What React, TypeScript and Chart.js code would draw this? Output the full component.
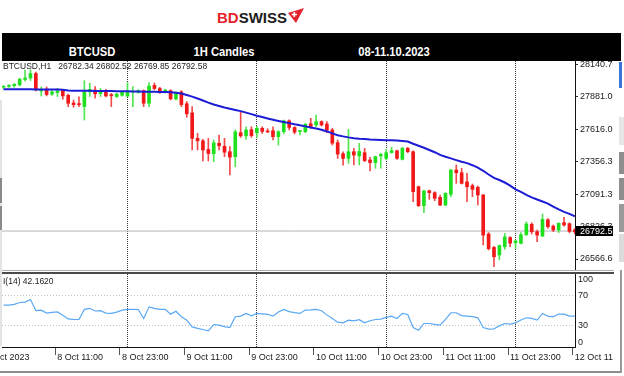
import React, { useEffect, useRef } from "react";
import { Chart, registerables } from "chart.js";

Chart.register(...registerables);

const FONT = "'Liberation Sans', Arial, Helvetica, sans-serif";
Chart.defaults.font.family = FONT;

// ---------- data (hourly candles, 8 Oct 00:00 -> 12 Oct 10:00) ----------
const opens = [
  27955, 27962, 27968, 27975, 28018, 28030, 28066, 27925, 27940, 27900,
  27912, 27928, 27890, 27828, 27822, 27800, 27918, 27933, 27903, 27918,
  27895, 27880, 27890, 27884, 27916, 27914, 27928, 27826, 27970, 27945,
  27918, 27928, 27860, 27918, 27822, 27748, 27542, 27522, 27452, 27418,
  27502, 27478, 27434, 27394, 27588, 27562, 27612, 27588, 27623, 27602,
  27604, 27555, 27596, 27684, 27630, 27598, 27596, 27660, 27650, 27677,
  27658, 27610, 27507, 27418, 27380, 27434, 27400, 27426, 27367, 27346,
  27400, 27380, 27428, 27442, 27372, 27461, 27434, 27151, 26998, 27119,
  27103, 27065, 27003, 27090, 27286, 27264, 27190, 27160, 27146, 27084,
  26769, 26660, 26599, 26666, 26740, 26698, 26693, 26762, 26847, 26787,
  26752, 26884, 26833, 26801, 26860, 26852, 26802,
];
const highs = [
  27968, 27976, 27985, 28028, 28095, 28095, 28078, 27958, 27958, 27928,
  27945, 27938, 27900, 27852, 27878, 28008, 27988, 27960, 27945, 27938,
  27906, 27906, 27925, 27992, 27960, 27936, 27933, 27992, 27990, 27955,
  27940, 27935, 27918, 27928, 27840, 27798, 27582, 27534, 27542, 27529,
  27569, 27542, 27475, 27610, 27758, 27636, 27636, 27640, 27636, 27620,
  27636, 27604, 27690, 27692, 27636, 27606, 27662, 27704, 27731, 27684,
  27677, 27623, 27529, 27434, 27615, 27461, 27502, 27461, 27388, 27399,
  27421, 27453, 27469, 27448, 27469, 27469, 27442, 27157, 27124, 27124,
  27111, 27084, 27103, 27292, 27327, 27300, 27259, 27173, 27157, 27089,
  26780, 26670, 26680, 26774, 26747, 26720, 26780, 26866, 26860, 26801,
  26930, 26893, 26842, 26860, 26904, 26860, 26812,
];
const lows = [
  27945, 27953, 27955, 27965, 28005, 28010, 27925, 27885, 27885, 27890,
  27880, 27858, 27798, 27793, 27798, 27690, 27880, 27866, 27880, 27878,
  27798, 27873, 27884, 27878, 27798, 27906, 27798, 27798, 27935, 27905,
  27910, 27852, 27852, 27798, 27712, 27448, 27448, 27360, 27360, 27353,
  27448, 27394, 27246, 27313, 27550, 27534, 27550, 27550, 27582, 27588,
  27529, 27488, 27578, 27610, 27578, 27569, 27588, 27623, 27636, 27642,
  27588, 27488, 27380, 27326, 27340, 27327, 27327, 27353, 27278, 27300,
  27300, 27367, 27421, 27372, 27367, 27426, 27030, 26990, 26941, 27049,
  27038, 26998, 26998, 27070, 27178, 27173, 27030, 27070, 27003, 26680,
  26639, 26505, 26560, 26645, 26666, 26653, 26688, 26758, 26769, 26706,
  26748, 26815, 26788, 26780, 26833, 26780, 26770,
];
const closes = [
  27962, 27970, 27979, 28020, 28030, 28066, 27935, 27938, 27897, 27918,
  27925, 27885, 27826, 27814, 27815, 27918, 27937, 27902, 27922, 27885,
  27886, 27900, 27916, 27926, 27924, 27928, 27826, 27965, 27945, 27925,
  27932, 27862, 27910, 27815, 27740, 27542, 27522, 27448, 27420, 27505,
  27482, 27430, 27390, 27594, 27562, 27610, 27564, 27623, 27598, 27594,
  27555, 27596, 27684, 27630, 27592, 27604, 27656, 27636, 27677, 27650,
  27608, 27503, 27415, 27380, 27434, 27407, 27436, 27362, 27346, 27394,
  27412, 27426, 27442, 27380, 27461, 27434, 27111, 26998, 27116, 27103,
  27057, 27003, 27097, 27286, 27264, 27178, 27151, 27130, 27084, 26760,
  26650, 26585, 26675, 26745, 26695, 26712, 26762, 26850, 26787, 26760,
  26887, 26828, 26801, 26855, 26841, 26790, 26785,
];
const maValues = [
  27938, 27938, 27938, 27938, 27938, 27938, 27937, 27937, 27937, 27936,
  27936, 27935, 27928, 27927, 27927, 27926, 27926, 27925, 27925, 27924,
  27924, 27923, 27923, 27922, 27921, 27920, 27919, 27919, 27918, 27917,
  27916, 27914, 27911, 27905, 27893, 27879, 27864, 27848, 27831, 27816,
  27803, 27791, 27781, 27771, 27762, 27750, 27738, 27725, 27714, 27703,
  27693, 27683, 27674, 27665, 27656, 27648, 27639, 27630, 27621, 27612,
  27598, 27582, 27567, 27558, 27550, 27543, 27539, 27536, 27533, 27531,
  27529, 27527, 27526, 27524, 27521, 27516, 27498, 27482, 27466, 27448,
  27430, 27408, 27393, 27380, 27366, 27353, 27342, 27325, 27305, 27280,
  27250, 27222, 27205, 27185, 27160, 27130, 27110, 27085, 27065, 27048,
  27032, 27015, 26990, 26968, 26948, 26932, 26912,
];
const rsiValues = [
  57.5, 57.5, 58.5, 61, 61.5, 65, 50, 50.5, 46.5, 47.5,
  48, 43.5, 38.5, 37.8, 37.7, 51.5, 53, 49.3, 49.7, 46.5,
  46, 47.8, 50.5, 51.5, 51.5, 51.3, 39.1, 55, 53, 51.5,
  51.5, 45, 49, 41.5, 36.8, 27.6, 25.5, 24, 22.2, 30.8,
  30, 28, 26.7, 41.4, 42.3, 46, 42.8, 46, 45.5, 44.8,
  42.3, 48, 51.5, 48.5, 47, 46, 50.6, 50.8, 51.5, 49.7,
  44, 39.1, 34, 33.1, 36.8, 35.9, 37.5, 33.1, 36, 37.7,
  38.2, 40.5, 42.3, 39.1, 46, 44.6, 26.7, 23, 32.2, 32.2,
  31, 29.9, 37.7, 46.9, 46.9, 43, 42.3, 41.5, 40, 26.7,
  24.5, 24.8, 29, 32.2, 31.3, 33.1, 37, 40, 39.1, 36.8,
  46, 42.3, 41.4, 45.1, 45.1, 42.3, 42.2,
];

const priceTicks = [26566.6, 26826.3, 27091.3, 27356.3, 27616.0, 27881.0, 28140.7];
const separatorBars = [23, 47, 71, 95];
const timeTickBars = [-3.7, 9.6, 21.6, 33.6, 45.6, 57.6, 69.6, 81.6, 93.6, 105.6];
const timeLabels = [
  "8 Oct 2023", "8 Oct 11:00", "8 Oct 23:00", "9 Oct 11:00", "9 Oct 23:00",
  "10 Oct 11:00", "10 Oct 23:00", "11 Oct 11:00", "11 Oct 23:00", "12 Oct 11:00",
];
const rsiTickValues = [6, 30, 70, 92];
const rsiTickLabels = ["0", "30", "70", "100"];
const lastPrice = 26792.58;
const ohlcText = "BTCUSD,H1   26782.34 26802.52 26769.85 26792.58";
const rsiText = "I(14) 42.1620";
const headerCells = ["BTCUSD", "1H Candles", "08-11.10.2023"];

// ---------- layout constants ----------
const X_MIN = -0.28;
const X_MAX = 106.03;
const Y_MIN = 26477.7;
const Y_MAX = 28167.4;
const GREEN = "#1fe01f";
const RED = "#f01818";
const GREEN_W = "#4fe64f";
const RED_W = "#f24a4a";

const priceBoxPlugin = {
  id: "priceBox",
  afterDraw(chart: any) {
    const y = chart.scales.y.getPixelForValue(lastPrice);
    const ctx = chart.ctx;
    const left = chart.chartArea.right + 1;
    ctx.save();
    ctx.fillStyle = "#000";
    ctx.fillRect(left, Math.round(y) - 5, 60, 10);
    ctx.fillStyle = "#fff";
    ctx.font = `9px ${FONT}`;
    ctx.textBaseline = "middle";
    ctx.fillText(lastPrice.toFixed(2), left + 4, Math.round(y) + 0.5);
    ctx.restore();
  },
};

export default function App() {
  const mainRef = useRef<HTMLCanvasElement>(null);
  const rsiRef = useRef<HTMLCanvasElement>(null);

  useEffect(() => {
    const idx = opens.map((_, i) => i);
    const up = idx.map((i) => closes[i] >= opens[i]);

    const main = new Chart(mainRef.current as HTMLCanvasElement, {
      type: "bar",
      data: {
        datasets: [
          {
            type: "line",
            label: "MA",
            data: maValues.map((v, i) => ({ x: i, y: v })),
            borderColor: "#1c1cd6",
            borderWidth: 2,
            pointRadius: 0,
            tension: 0,
            order: 0,
            clip: 0,
          } as any,
          {
            type: "bar",
            label: "Bodies",
            data: idx.map((i) => ({ x: i, y: [opens[i], closes[i]] })),
            backgroundColor: up.map((u) => (u ? GREEN : RED)),
            barThickness: 3,
            minBarLength: 1,
            grouped: false,
            order: 1,
            clip: 0,
          } as any,
          {
            type: "bar",
            label: "Wicks",
            data: idx.map((i) => ({ x: i, y: [lows[i], highs[i]] })),
            backgroundColor: up.map((u) => (u ? GREEN_W : RED_W)),
            barThickness: 1,
            grouped: false,
            order: 2,
            clip: 0,
          } as any,
          {
            type: "line",
            label: "Last",
            data: [
              { x: X_MIN, y: lastPrice },
              { x: X_MAX, y: lastPrice },
            ],
            borderColor: "#b4b4b4",
            borderWidth: 1,
            pointRadius: 0,
            order: 3,
            clip: 0,
          } as any,
        ],
      },
      options: {
        responsive: false,
        animation: false,
        events: [],
        layout: { padding: { left: 2, top: 11, right: 0, bottom: 2 } },
        plugins: { legend: { display: false }, tooltip: { enabled: false } },
        scales: {
          x: {
            type: "linear",
            min: X_MIN,
            max: X_MAX,
            bounds: "data",
            offset: false,
            afterBuildTicks: (s: any) => {
              s.ticks = separatorBars.map((v) => ({ value: v }));
            },
            ticks: { display: false },
            grid: { display: true, drawTicks: false, offset: false, color: "#3a3a3a", lineWidth: 1, borderDash: [1, 1] },
            border: { display: false, dash: [1, 1] },
            afterFit: (s: any) => {
              s.height = 0;
              s.paddingLeft = 0;
              s.paddingRight = 0;
            },
          } as any,
          y: {
            type: "linear",
            position: "right",
            min: Y_MIN,
            max: Y_MAX,
            bounds: "data",
            afterBuildTicks: (s: any) => {
              s.ticks = priceTicks.map((v) => ({ value: v }));
            },
            ticks: {
              autoSkip: false,
              callback: (v: any) => Number(v).toFixed(2),
              color: "#1a1a1a",
              font: { family: FONT, size: 9 },
              padding: 2,
            },
            grid: { drawOnChartArea: false, drawTicks: true, tickLength: 3, color: "#333" },
            border: { display: true, color: "#111", width: 1 },
            afterFit: (s: any) => {
              s.width = 38;
              s.paddingTop = 0;
              s.paddingBottom = 0;
            },
          } as any,
        },
      } as any,
      plugins: [priceBoxPlugin],
    });

    const rsi = new Chart(rsiRef.current as HTMLCanvasElement, {
      type: "line",
      data: {
        datasets: [
          {
            label: "RSI",
            data: rsiValues.map((v, i) => ({ x: i, y: v })),
            borderColor: "#5aa8f4",
            borderWidth: 1.2,
            pointRadius: 0,
            tension: 0,
            clip: 0,
          } as any,
        ],
      },
      options: {
        responsive: false,
        animation: false,
        events: [],
        layout: { padding: { left: 2, top: 2, right: 0, bottom: 1 } },
        plugins: { legend: { display: false }, tooltip: { enabled: false } },
        scales: {
          x: {
            type: "linear",
            position: "bottom",
            min: X_MIN,
            max: X_MAX,
            bounds: "data",
            offset: false,
            afterBuildTicks: (s: any) => {
              s.ticks = timeTickBars.map((v) => ({ value: v }));
            },
            ticks: {
              autoSkip: false,
              maxRotation: 0,
              minRotation: 0,
              align: "start",
              labelOffset: 2,
              padding: -3,
              color: "#1a1a1a",
              font: { family: FONT, size: 9 },
              callback: (_v: any, i: number) => timeLabels[i],
            },
            grid: { drawOnChartArea: false, drawTicks: true, tickLength: 8, color: "#555" },
            border: { display: true, color: "#111", width: 1 },
            afterFit: (s: any) => {
              s.height = 24;
              s.paddingLeft = 0;
              s.paddingRight = 0;
            },
          } as any,
          xg: {
            type: "linear",
            position: "top",
            min: X_MIN,
            max: X_MAX,
            bounds: "data",
            offset: false,
            afterBuildTicks: (s: any) => {
              s.ticks = separatorBars.map((v) => ({ value: v }));
            },
            ticks: { display: false },
            grid: { drawTicks: false, color: "#3a3a3a", borderDash: [1, 1] },
            border: { display: false, dash: [1, 1] },
            afterFit: (s: any) => {
              s.height = 0;
              s.paddingLeft = 0;
              s.paddingRight = 0;
            },
          } as any,
          y: {
            type: "linear",
            position: "right",
            min: 0,
            max: 100,
            bounds: "data",
            afterBuildTicks: (s: any) => {
              s.ticks = rsiTickValues.map((v) => ({ value: v }));
            },
            ticks: {
              autoSkip: false,
              color: "#1a1a1a",
              font: { family: FONT, size: 9 },
              padding: 3,
              callback: (_v: any, i: number) => rsiTickLabels[i],
            },
            grid: {
              drawTicks: false,
              color: (ctx: any) =>
                ctx.tick && (ctx.tick.value === 30 || ctx.tick.value === 70) ? "#c2c2c2" : "rgba(0,0,0,0)",
              borderDash: [1, 2],
            },
            border: { display: true, color: "#111", width: 1, dash: [1, 2] },
            afterFit: (s: any) => {
              s.width = 38;
              s.paddingTop = 0;
              s.paddingBottom = 0;
            },
          } as any,
        },
      } as any,
    });

    return () => {
      main.destroy();
      rsi.destroy();
    };
  }, []);

  const abs = (s: React.CSSProperties): React.CSSProperties => ({ position: "absolute", ...s });
  const cellCenters = [91.7, 224, 394];

  return (
    <div
      style={{
        position: "fixed",
        left: 0,
        top: 0,
        width: 624,
        height: 376,
        background: "#fff",
        overflow: "hidden",
        fontFamily: FONT,
      }}
    >
      <canvas ref={mainRef} width={613} height={222} style={abs({ left: 0, top: 50, width: 613, height: 222 })} />
      <canvas ref={rsiRef} width={613} height={100} style={abs({ left: 0, top: 272, width: 613, height: 100 })} />

      {/* logo */}
      <div style={abs({ left: 217, top: 10, fontSize: 15, lineHeight: "15px", fontWeight: 700, whiteSpace: "pre" })}>
        <span style={{ color: "#e3222b" }}>BD</span>
        <span style={{ color: "#1b1b1b" }}>SWISS</span>
      </div>
      <svg style={abs({ left: 287, top: 7 })} width={18} height={18} viewBox="0 0 18 18">
        <polygon points="1,6 17,1 9,16 5,11" fill="#e3222b" />
        <rect x={6.5} y={5} width={1.6} height={5} fill="#fff" />
        <rect x={4.8} y={6.7} width={5} height={1.6} fill="#fff" />
      </svg>

      {/* black header bar */}
      <div style={abs({ left: 2, top: 33, width: 619, height: 28, background: "#000" })} />
      {headerCells.map((t, k) => (
        <div key={t} style={abs({ left: cellCenters[k], top: 42, width: 0, height: 14 })}>
          <span
            style={{
              display: "inline-block",
              whiteSpace: "pre",
              color: "#fff",
              fontWeight: 700,
              fontSize: 13.5,
              lineHeight: "14px",
              transform: "translateX(-50%) scaleX(0.83)",
            }}
          >
            {t}
          </span>
        </div>
      ))}

      {/* chart captions */}
      <div style={abs({ left: 3, top: 61, fontSize: 8.5, lineHeight: "10px", color: "#222", whiteSpace: "pre" })}>
        {ohlcText}
      </div>
      <div style={abs({ left: 3, top: 276, fontSize: 8.5, lineHeight: "10px", color: "#222", whiteSpace: "pre" })}>
        {rsiText}
      </div>

      {/* window frame details */}
      <div style={abs({ left: 0, top: 270, width: 614, height: 1, background: "#b0b0b0" })} />
      <div style={abs({ left: 0, top: 272, width: 614, height: 2, background: "#4a4a4a" })} />
      <div style={abs({ left: 0, top: 371, width: 621, height: 2, background: "#8c8c8c" })} />
      <div style={abs({ left: 620, top: 270, width: 2, height: 103, background: "#9a9a9a" })} />
      <div style={abs({ left: 0, top: 100, width: 2, height: 246, background: "#e4e4e4" })} />
      <div style={abs({ left: 0, top: 178, width: 2, height: 25, background: "#8a8a8a" })} />
      <div style={abs({ left: 0, top: 206, width: 2, height: 24, background: "#8a8a8a" })} />
      <div style={abs({ left: 619, top: 62, width: 3, height: 26, background: "#3d72d6" })} />
      <div style={abs({ left: 619, top: 117, width: 5, height: 28, background: "#e6e6e6" })} />
      <div style={abs({ left: 619, top: 152, width: 5, height: 22, background: "#8e8e8e" })} />
      <div style={abs({ left: 619, top: 178, width: 5, height: 22, background: "#8e8e8e" })} />
      <div style={abs({ left: 619, top: 204, width: 5, height: 28, background: "#9a9a9a" })} />
      <div style={abs({ left: 619, top: 234, width: 5, height: 28, background: "#dcdcdc" })} />
    </div>
  );
}
